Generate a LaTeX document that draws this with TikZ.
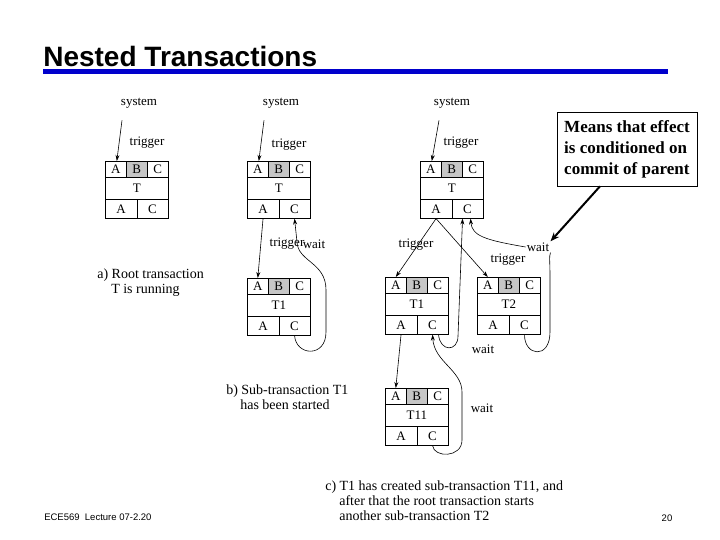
\documentclass[tikz,border=0pt]{standalone}
\usepackage{fontspec}
\setmainfont{Liberation Serif}
\newfontfamily\headfont{Liberation Sans}
\usetikzlibrary{arrows.meta}
\definecolor{barblue}{RGB}{0,0,204}

\tikzset{
  cell/.style={draw, anchor=north west, inner sep=0pt, minimum width=21pt, minimum height=16pt, font=\fontsize{13}{15}\selectfont},
  bcell/.style={cell, fill=gray!45},
  namecell/.style={cell, minimum width=63pt, minimum height=22pt},
  lowcell/.style={cell, minimum width=31.5pt, minimum height=19pt},
  lbl/.style={inner sep=1pt, font=\fontsize{13}{15}\selectfont},
  captxt/.style={anchor=base west, inner sep=0pt, align=left, font=\fontsize{14}{15}\selectfont},
  arr/.style={-{Stealth[length=6pt, width=4pt]}},
  notebox/.style={draw, align=left, minimum width=140pt, minimum height=74pt, inner sep=2pt, font=\bfseries\fontsize{17}{21}\selectfont},
}

\begin{document}
\begin{tikzpicture}[x=1pt, y=-1pt, line width=0.6pt]

  \useasboundingbox (0,0) rectangle (720,540);

  % title and bar
  \node[anchor=base west, inner sep=0pt, font=\headfont\bfseries\fontsize{28}{30}\selectfont] (title) at (43,67) {Nested Transactions};
  \fill[barblue] (43,69) rectangle (668,74);

  % a) root transaction
  \node[lbl] (sys-a) at (139,103) {system};
  \node[lbl] (trig-a) at (147,143) {trigger};
  \node[cell] (Ta-A) at (105,161) {A};
  \node[bcell] (Ta-B) at (126,161) {B};
  \node[cell] (Ta-C) at (147,161) {C};
  \node[namecell] (Ta-T) at (105,177) {T};
  \node[lowcell] (Ta-A2) at (105,199) {A};
  \node[lowcell] (Ta-C2) at (136.5,199) {C};
  \draw[arr] ([xshift=-17pt, yshift=-11pt]sys-a.south) -- ([xshift=1pt]Ta-A.north);
  \node[captxt] (cap-a) at (97,293) {a) Root transaction\\\hspace*{14pt}T is running};

  % b) sub-transaction T1
  \node[lbl] (sys-b) at (281,103) {system};
  \node[lbl] (trig-b) at (289,145) {trigger};
  \node[cell] (Tb-A) at (247,161) {A};
  \node[bcell] (Tb-B) at (268,161) {B};
  \node[cell] (Tb-C) at (289,161) {C};
  \node[namecell] (Tb-T) at (247,177) {T};
  \node[lowcell] (Tb-A2) at (247,199) {A};
  \node[lowcell] (Tb-C2) at (278.5,199) {C};
  \draw[arr] ([xshift=-17pt, yshift=-11pt]sys-b.south) -- ([xshift=1pt]Tb-A.north);

  \node[cell] (T1b-A) at (247,278) {A};
  \node[bcell] (T1b-B) at (268,278) {B};
  \node[cell] (T1b-C) at (289,278) {C};
  \node[namecell] (T1b-T) at (247,294) {T1};
  \node[lowcell] (T1b-A2) at (247,316) {A};
  \node[lowcell] (T1b-C2) at (278.5,316) {C};

  \node[lbl] (trig-b2) at (287,244) {trigger};
  \node[lbl] (wait-b) at (314,244) {wait};
  \draw[arr] (Tb-A2.south) -- (T1b-A.north);
  \draw[arr] (T1b-C2.south) .. controls (296,356) and (326,358) .. (326,332) -- (326,290)
    .. controls (326,262) and (298,262) .. (297,242) -- (Tb-C2.south);
  \node[captxt] (cap-b) at (226,409) {b) Sub-transaction T1\\\hspace*{14pt}has been started};

  % c) T11 and T2
  \node[lbl] (sys-c) at (452,103) {system};
  \node[lbl] (trig-c) at (461,143) {trigger};
  \node[cell] (Tc-A) at (420,161) {A};
  \node[bcell] (Tc-B) at (441,161) {B};
  \node[cell] (Tc-C) at (462,161) {C};
  \node[namecell] (Tc-T) at (420,177) {T};
  \node[lowcell] (Tc-A2) at (420,199) {A};
  \node[lowcell] (Tc-C2) at (451.5,199) {C};
  \draw[arr] ([xshift=-13pt, yshift=-11pt]sys-c.south) -- ([xshift=1pt]Tc-A.north);

  \node[cell] (T1c-A) at (385,277) {A};
  \node[bcell] (T1c-B) at (406,277) {B};
  \node[cell] (T1c-C) at (427,277) {C};
  \node[namecell] (T1c-T) at (385,293) {T1};
  \node[lowcell] (T1c-A2) at (385,315) {A};
  \node[lowcell] (T1c-C2) at (416.5,315) {C};

  \node[cell] (T2-A) at (477,277) {A};
  \node[bcell] (T2-B) at (498,277) {B};
  \node[cell] (T2-C) at (519,277) {C};
  \node[namecell] (T2-T) at (477,293) {T2};
  \node[lowcell] (T2-A2) at (477,315) {A};
  \node[lowcell] (T2-C2) at (508.5,315) {C};

  \node[cell] (T11-A) at (385,388) {A};
  \node[bcell] (T11-B) at (406,388) {B};
  \node[cell] (T11-C) at (427,388) {C};
  \node[namecell] (T11-T) at (385,404) {T11};
  \node[lowcell] (T11-A2) at (385,426) {A};
  \node[lowcell] (T11-C2) at (416.5,426) {C};

  \node[lbl] (trig-c1) at (416,245) {trigger};
  \node[lbl] (trig-c2) at (508,260) {trigger};
  \node[lbl] (wait-c1) at (483,349) {wait};
  \node[lbl] (wait-c2) at (538,247) {wait};
  \node[lbl] (wait-c3) at (482,408) {wait};

  \draw[arr] (Tc-A2.south) -- (T1c-A.north);
  \draw[arr] (Tc-A2.south) -- (T2-A.north);
  \draw[arr] (T1c-A2.south) -- (T11-A.north);
  \draw[arr] ([xshift=6pt]T1c-C2.south) .. controls (440,352) and (458,352) .. (458,336) -- ([xshift=-5pt]Tc-C2.south);
  \draw (T2-C2.south) .. controls (524,356) and (550,360) .. (550,332) -- (550,276)
    .. controls (550,262) and (549,256) .. (wait-c2.south east);
  \draw[arr] (wait-c2.west) .. controls (485,240) and (472,236) .. ([xshift=3pt]Tc-C2.south);
  \draw[arr] (T11-C2.south) .. controls (434,458) and (462,458) .. (462,440) -- (462,392)
    .. controls (462,370) and (434,362) .. (T1c-C2.south);
  \node[captxt] (cap-c) at (325,520) {c) T1 has created sub-transaction T11, and\\\hspace*{14pt}after that the root transaction starts\\\hspace*{14pt}another sub-transaction T2};

  % note
  \node[notebox] (note) at (627,149) {Means that effect\\is conditioned on\\commit of parent};
  \draw[line width=2pt, -{Stealth[length=9pt, width=7pt]}] ([xshift=-27pt]note.south) -- (wait-c2.north east);

  % footer
  \node[anchor=base west, inner sep=0pt, font=\headfont\fontsize{9.5}{11}\selectfont] (foot) at (44,520) {ECE569~ Lecture 07-2.20};
  \node[anchor=base, inner sep=0pt, font=\headfont\fontsize{9.5}{11}\selectfont] (page) at (667,521) {20};

\end{tikzpicture}
\end{document}
